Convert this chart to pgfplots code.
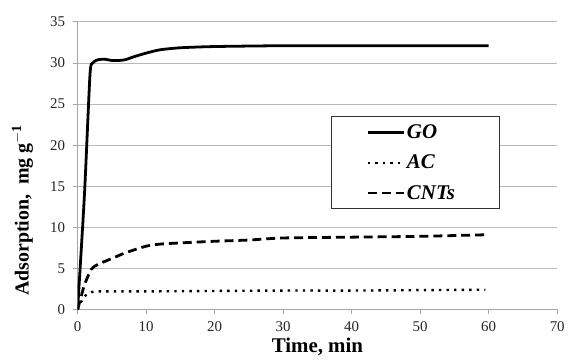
\documentclass[border=0pt]{standalone}
\usepackage{pgfplots}
\pgfplotsset{compat=1.18}
\usepackage{fontspec}
\setmainfont{Liberation Serif}
\begin{document}
\begin{tikzpicture}
\begin{axis}[
  scale only axis,
  width=482pt, height=289pt,
  xmin=0, xmax=70, ymin=0, ymax=35,
  xtick={0,10,...,70}, ytick={0,5,...,35},
  axis x line*=bottom, axis y line*=left,
  axis line style={gray!70, line width=0.9pt, -},
  tick style={gray!70, line width=0.9pt},
  tick align=outside, major tick length=5pt,
  ymajorgrids, grid style={gray!55, line width=0.9pt},
  /pgf/number format/assume math mode=true,
  ticklabel style={font=\fontsize{15}{15}\selectfont, text=black!85},
  yticklabel style={xshift=-4pt},
  xticklabel style={yshift=-4pt},
  xlabel={\textbf{Time, min}}, ylabel={\textbf{Adsorption,\ \ mg g$^{\mathbf{-1}}$}},
  label style={font=\fontsize{20}{20}\selectfont},
  xlabel style={at={(axis description cs:0.5,-0.131)}, anchor=center, font=\fontsize{21}{21}\selectfont},
  ylabel style={at={(axis description cs:-0.115,0.345)}, anchor=center},
  legend style={at={(axis cs:37.0,23.5)}, anchor=north west, draw=black!80, line width=0.9pt,
    font=\fontsize{21}{21}\selectfont\bfseries\itshape, row sep=11pt,
    inner xsep=35pt, inner ysep=6pt, nodes={inner sep=2pt}},
  legend cell align=left,
  legend image code/.code={\draw[#1] (0pt,0pt) -- (36pt,0pt);},
]
\addplot[black, line width=2.8pt, smooth, tension=0.4] coordinates {
 (0,0) (1,14) (1.8,28.5) (2.2,30) (3,30.4) (4,30.45) (5,30.3) (6,30.3) (7,30.4) (8,30.7) (10,31.2) (12,31.6) (15,31.85) (20,32) (30,32.1) (40,32.1) (50,32.1) (60,32.1)};
\addlegendentry{\makebox[56pt][l]{GO}}
\addplot[black, line width=2.4pt, dash pattern=on 2.4pt off 5.2pt, smooth, tension=0.4] coordinates {
 (0,0) (0.5,0.9) (1,1.6) (2,2.1) (3,2.2) (5,2.2) (10,2.2) (20,2.25) (30,2.3) (40,2.3) (50,2.35) (59.5,2.4)};
\addlegendentry{\makebox[56pt][l]{AC}}
\addplot[black, line width=2.8pt, dash pattern=on 9pt off 5pt, smooth, tension=0.4] coordinates {
 (0,0) (0.5,1.5) (1,3) (2,4.9) (3,5.5) (5,6.2) (7,6.9) (10,7.7) (12,7.95) (15,8.1) (20,8.3) (25,8.45) (30,8.7) (40,8.8) (50,8.9) (60,9.1)};
\addlegendentry{\makebox[56pt][l]{CNTs}}
\end{axis}
\path ([xshift=-78pt,yshift=22pt]current axis.north west);
\path ([xshift=8pt,yshift=-50pt]current axis.south east);
\end{tikzpicture}
\end{document}
